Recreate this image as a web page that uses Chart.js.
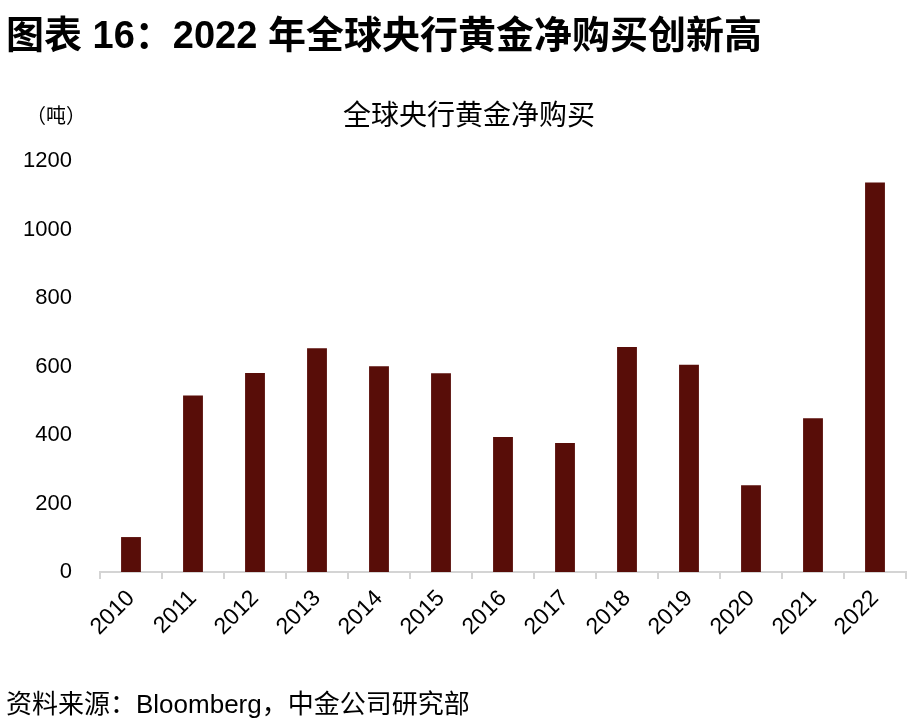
<!DOCTYPE html>
<html>
<head>
<meta charset="utf-8">
<script src="https://cdn.jsdelivr.net/npm/chart.js@4/dist/chart.umd.min.js"></script>
<style>
  html, body { margin: 0; padding: 0; background: #fff; }
  body { width: 914px; height: 725px; position: relative; overflow: hidden;
         font-family: "Liberation Sans", "Noto Sans CJK SC", sans-serif; color: #000; }
  .heading { position: absolute; left: 6px; top: 4px; font-size: 38px; font-weight: bold; white-space: nowrap; }
  .chart-title { position: absolute; left: 0; width: 938px; top: 93px; text-align: center; font-size: 28px; white-space: nowrap; }
  .unit { position: absolute; left: 26px; top: 100px; font-size: 20px; white-space: nowrap; }
  .source { position: absolute; left: 6px; top: 683px; font-size: 26px; white-space: nowrap; }
  .chart-wrap { position: absolute; left: 0; top: 0; width: 914px; height: 725px; }
</style>
</head>
<body>
<div class="chart-wrap"><canvas id="goldChart"></canvas></div>
<div class="heading">图表 16：2022 年全球央行黄金净购买创新高</div>
<div class="chart-title">全球央行黄金净购买</div>
<div class="unit">（吨）</div>
<div class="source">资料来源：Bloomberg，中金公司研究部</div>
<script>
const years = ['2010', '2011', '2012', '2013', '2014', '2015', '2016',
  '2017', '2018', '2019', '2020', '2021', '2022'];
const netPurchases = [102, 515, 581, 653, 601, 580, 394, 377, 657, 605, 253, 449, 1137];
const yTicks = [0, 200, 400, 600, 800, 1000, 1200];

(function () {
  const canvas = document.getElementById('goldChart');
  if (!canvas || typeof Chart === 'undefined') return;

  const FONT = '"Liberation Sans", "Noto Sans CJK SC", sans-serif';
  const axisGray = '#d4d4d4';

  new Chart(canvas.getContext('2d'), {
    type: 'bar',
    data: {
      labels: years,
      datasets: [{
        label: '全球央行黄金净购买',
        data: netPurchases,
        backgroundColor: '#580d08',
        borderWidth: 0,
        barPercentage: 0.32,
        categoryPercentage: 1
      }]
    },
    options: {
      responsive: true,
      maintainAspectRatio: false,
      animation: false,
      layout: { padding: { top: 161, left: 0, right: 8, bottom: 0 } },
      plugins: {
        legend: { display: false },
        tooltip: { enabled: false }
      },
      scales: {
        x: {
          afterFit: (scale) => { scale.height = 153; },
          grid: {
            display: true,
            drawOnChartArea: false,
            drawTicks: true,
            tickLength: 7,
            color: axisGray,
            lineWidth: 2,
            offset: true
          },
          border: { display: true, color: axisGray, width: 2 },
          ticks: {
            color: '#000',
            font: { family: FONT, size: 23 },
            minRotation: 45,
            maxRotation: 45,
            padding: 6,
            autoSkip: false
          }
        },
        y: {
          min: 0,
          max: 1200,
          afterFit: (scale) => { scale.width = 100; },
          afterBuildTicks: (scale) => { scale.ticks = yTicks.map((v) => ({ value: v })); },
          grid: { display: false },
          border: { display: false },
          ticks: {
            color: '#000',
            font: { family: FONT, size: 22 },
            padding: 20,
            callback: (value) => String(value)
          }
        }
      }
    }
  });
})();
</script>
</body>
</html>
